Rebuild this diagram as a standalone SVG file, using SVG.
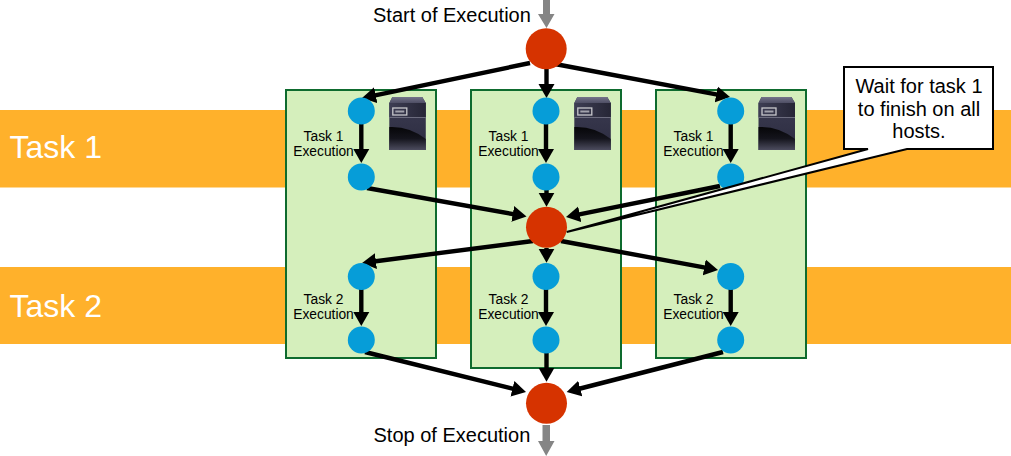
<svg xmlns="http://www.w3.org/2000/svg" xmlns:xlink="http://www.w3.org/1999/xlink" width="1011" height="456" viewBox="0 0 1011 456">
<style>
text{font-family:"Liberation Sans",Arial,sans-serif;fill:#000}
.band{fill:#FFB12B}
.band-label{font-size:32px;fill:#fff}
.host{fill:#D5EFBC;stroke:#0E6B2E;stroke-width:2}
.small{fill:#069DD8}
.big{fill:#D63300}
.lab{font-size:13.8px;text-anchor:middle}
.big-lab{font-size:20px}
.conn{stroke:#000;stroke-width:4.4;fill:none;marker-end:url(#head)}
.gray{fill:#858585}
</style>
<defs>
<marker id="head" markerUnits="userSpaceOnUse" markerWidth="15" markerHeight="18" refX="8" refY="9" orient="auto">
<path d="M0,1 L14,9 L0,17 Z" fill="#000"/>
</marker>
<linearGradient id="top" x1="0" y1="0" x2="0" y2="1"><stop offset="0" stop-color="#74748a"/><stop offset="1" stop-color="#4e4e64"/></linearGradient>
<linearGradient id="front" x1="0" y1="0" x2="1" y2="0"><stop offset="0" stop-color="#3e3e54"/><stop offset="1" stop-color="#262636"/></linearGradient>
<linearGradient id="body" x1="0" y1="0" x2="0" y2="1"><stop offset="0" stop-color="#3c3c52"/><stop offset="1" stop-color="#2c2c40"/></linearGradient>
<linearGradient id="shine" x1="0" y1="0" x2="0" y2="1"><stop offset="0" stop-color="#060608"/><stop offset=".5" stop-color="#14141c"/><stop offset="1" stop-color="#4c4c5e"/></linearGradient>
<g id="server">
<path d="M3,0 H33 L36.5,6 V53 H0 V6 Z" fill="url(#body)"/>
<path d="M3,0 H33 L36.5,6 H0 Z" fill="url(#top)"/>
<rect x="0" y="6" width="36.5" height="14" fill="url(#front)"/>
<rect x="3.5" y="11" width="14" height="7" fill="none" stroke="#c8c8cc" stroke-width="1.3"/>
<rect x="6" y="13.5" width="9" height="2" fill="#a2a2ac"/>
<path d="M0,20.5 H36.5" stroke="#6c6c7e" stroke-width="1"/>
<path d="M0,30 Q20,29 36.5,42 V53 H0 Z" fill="url(#shine)"/>
</g>
</defs>

<g id="bands">
<g id="task1-band"><rect class="band" x="0" y="110" width="1011" height="77.5"/><text class="band-label" x="9.5" y="158">Task 1</text></g>
<g id="task2-band"><rect class="band" x="0" y="267" width="1011" height="77"/><text class="band-label" x="9.5" y="317">Task 2</text></g>
</g>

<g id="hosts">
<g id="host1"><rect class="host" x="286" y="90" width="150" height="268"/><use xlink:href="#server" href="#server" x="389.3" y="97"/></g>
<g id="host2"><rect class="host" x="471" y="90" width="150" height="278"/><use xlink:href="#server" href="#server" x="574.3" y="97"/></g>
<g id="host3"><rect class="host" x="656" y="90" width="150" height="268"/><use xlink:href="#server" href="#server" x="758.5" y="97"/></g>
</g>

<g id="connectors">
<path class="conn" d="M530,63 L367.9,96.8"/>
<path class="conn" d="M546.5,69 V92"/>
<path class="conn" d="M555,64 L724.1,95.9"/>
<path class="conn" d="M361.3,124 V157"/>
<path class="conn" d="M546,124 V157"/>
<path class="conn" d="M730.7,124 V157"/>
<path class="conn" d="M367,188 L520.6,215.4"/>
<path class="conn" d="M546.5,190 V200.7"/>
<path class="conn" d="M720,186 L571.9,215.8"/>
<path class="conn" d="M533,241 L368,262.2"/>
<path class="conn" d="M546.5,248 V256.7"/>
<path class="conn" d="M561,241 L712.1,268.9"/>
<path class="conn" d="M361.3,289 V320"/>
<path class="conn" d="M546,289 V320"/>
<path class="conn" d="M730.7,289 V320"/>
<path class="conn" d="M365,352 L520.2,390.6"/>
<path class="conn" d="M546.5,353 V375.7"/>
<path class="conn" d="M723,352 L572.5,390.5"/>
<path class="gray" d="M543,0 H550 V14 H554.5 L546.5,28 L538,14 H543 Z"/>
<path class="gray" d="M542.5,425 H550 V441 H554.5 L546.2,456 L538,441 H542.5 Z"/>
</g>

<g id="nodes">
<g id="start"><circle class="big" cx="546.2" cy="48.8" r="20.5"/><text class="big-lab" x="373" y="22">Start of Execution</text></g>
<g id="barrier"><circle class="big" cx="546.5" cy="227.2" r="20.5"/></g>
<g id="stop"><circle class="big" cx="546.5" cy="403.3" r="20.5"/><text class="big-lab" x="373.5" y="442">Stop of Execution</text></g>
<g id="h1-t1-a"><circle class="small" cx="361.3" cy="111" r="13.5"/><text class="lab" x="323.5" y="141">Task 1</text><text class="lab" x="323.5" y="156">Execution</text></g>
<g id="h1-t1-b"><circle class="small" cx="361.3" cy="177" r="13.5"/></g>
<g id="h2-t1-a"><circle class="small" cx="546" cy="111" r="13.5"/><text class="lab" x="508.5" y="141">Task 1</text><text class="lab" x="508.5" y="156">Execution</text></g>
<g id="h2-t1-b"><circle class="small" cx="546" cy="177" r="13.5"/></g>
<g id="h3-t1-a"><circle class="small" cx="730.7" cy="111" r="13.5"/><text class="lab" x="693.5" y="141">Task 1</text><text class="lab" x="693.5" y="156">Execution</text></g>
<g id="h3-t1-b"><circle class="small" cx="730.7" cy="177" r="13.5"/></g>
<g id="h1-t2-a"><circle class="small" cx="361.3" cy="276.5" r="13.5"/><text class="lab" x="323.5" y="304">Task 2</text><text class="lab" x="323.5" y="319">Execution</text></g>
<g id="h1-t2-b"><circle class="small" cx="361.3" cy="340" r="13.5"/></g>
<g id="h2-t2-a"><circle class="small" cx="546" cy="276.5" r="13.5"/><text class="lab" x="508.5" y="304">Task 2</text><text class="lab" x="508.5" y="319">Execution</text></g>
<g id="h2-t2-b"><circle class="small" cx="546" cy="340" r="13.5"/></g>
<g id="h3-t2-a"><circle class="small" cx="730.7" cy="276.5" r="13.5"/><text class="lab" x="693.5" y="304">Task 2</text><text class="lab" x="693.5" y="319">Execution</text></g>
<g id="h3-t2-b"><circle class="small" cx="730.7" cy="340" r="13.5"/></g>
<g id="callout">
<path d="M844,67 H993 V149 H907 L566.7,232 L868,149 H844 Z" fill="#fff" stroke="#000" stroke-width="2"/>
<text class="big-lab" text-anchor="middle" x="919" y="93">Wait for task 1</text>
<text class="big-lab" text-anchor="middle" x="919" y="116">to finish on all</text>
<text class="big-lab" text-anchor="middle" x="919" y="138">hosts.</text>
</g>
</g>
</svg>
